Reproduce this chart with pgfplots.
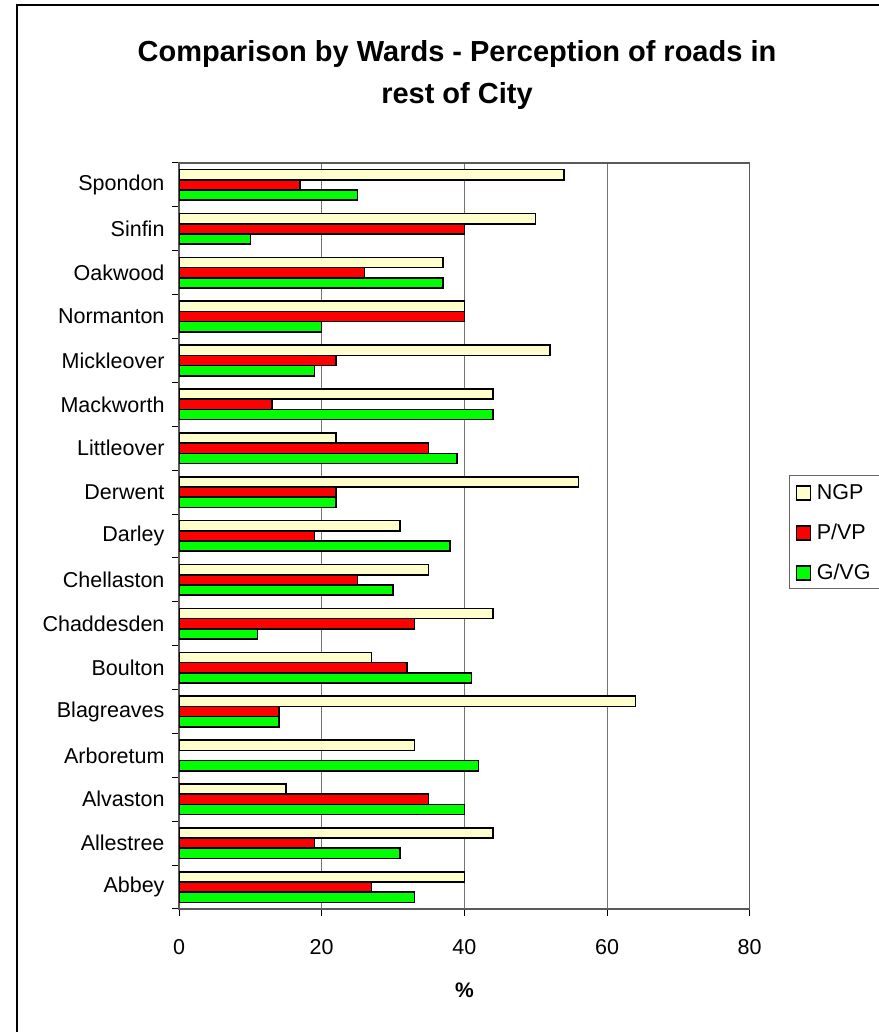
\documentclass[border=0pt]{standalone}
\usepackage{pgfplots}
\pgfplotsset{compat=1.18}
\usepackage{fontspec}
\setmainfont{Liberation Sans}
\definecolor{ngp}{HTML}{FFFFCC}
\definecolor{pvp}{HTML}{FF0000}
\definecolor{gvg}{HTML}{00FF00}
\begin{document}
\begin{tikzpicture}[x=1pt,y=1pt]
\useasboundingbox (0,0) rectangle (878,1032);
\draw[black, line width=2pt] (17,-20) -- (17,1027) -- (900,1027);
\node[font=\bfseries\fontsize{29}{42}\selectfont, align=center] at (457,957) {Comparison by Wards - Perception of roads in\\rest of City};
\begin{axis}[
  at={(179pt,123pt)}, anchor=south west,
  scale only axis, width=570.7pt, height=746pt,
  xbar, bar width=0.2325,
  xmin=0, xmax=80, ymin=-0.5, ymax=16.5,
  xtick={0,20,40,60,80},
  ytick={-0.5,0.5,...,16.5},
  y tick label as interval,
  yticklabels={Abbey,Allestree,Alvaston,Arboretum,Blagreaves,Boulton,Chaddesden,Chellaston,Darley,Derwent,Littleover,Mackworth,Mickleover,Normanton,Oakwood,Sinfin,Spondon},
  tick pos=left, tick align=outside, major tick length=7pt,
  tick style={black, line width=1pt},
  axis line style={draw=black!65, line width=1.2pt},
  xmajorgrids, grid style={black!55, line width=1pt},
  /pgf/number format/assume math mode=true,
  tick label style={font=\fontsize{21.5}{25}\selectfont},
  xticklabel style={yshift=-20pt},
  yticklabel style={xshift=-4pt},
  xlabel={\%},
  xlabel style={font=\bfseries\fontsize{21}{25}\selectfont, at={(axis description cs:0.5,-0.1086)}, anchor=center},
  legend style={at={(axis description cs:1.069,0.5818)}, anchor=north west, draw=black!60, line width=1pt,
    font=\fontsize{21.5}{25}\selectfont, row sep=19pt, column sep=3pt, inner xsep=6pt, inner ysep=6pt,
    nodes={inner sep=3pt, text height=15pt, text depth=0pt}},
  legend cell align=left,
]
\addplot[fill=ngp, draw=black, line width=1.6pt, bar shift=0.2325,
  legend image code/.code={\draw[fill=ngp, draw=black, line width=1.2pt] (0pt,-8pt) rectangle (14pt,6pt);}]
  coordinates {(40,0) (44,1) (15,2) (33,3) (64,4) (27,5) (44,6) (35,7) (31,8) (56,9) (22,10) (44,11) (52,12) (40,13) (37,14) (50,15) (54,16)};
\addplot[fill=pvp, draw=black, line width=1.6pt, bar shift=0,
  legend image code/.code={\draw[fill=pvp, draw=black, line width=1.2pt] (0pt,-8pt) rectangle (14pt,6pt);}]
  coordinates {(27,0) (19,1) (35,2) (14,4) (32,5) (33,6) (25,7) (19,8) (22,9) (35,10) (13,11) (22,12) (40,13) (26,14) (40,15) (17,16)};
\addplot[fill=gvg, draw=black, line width=1.6pt, bar shift=-0.2325,
  legend image code/.code={\draw[fill=gvg, draw=black, line width=1.2pt] (0pt,-8pt) rectangle (14pt,6pt);}]
  coordinates {(33,0) (31,1) (40,2) (42,3) (14,4) (41,5) (11,6) (30,7) (38,8) (22,9) (39,10) (44,11) (19,12) (20,13) (37,14) (10,15) (25,16)};
\legend{NGP,P/VP,G/VG}
\end{axis}
\end{tikzpicture}
\end{document}
